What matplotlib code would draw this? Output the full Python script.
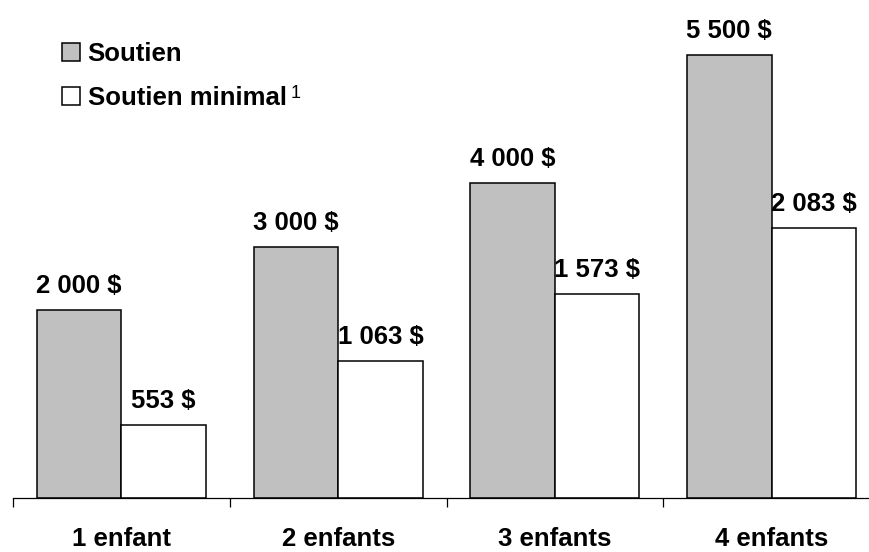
import matplotlib
matplotlib.use('Agg')
import matplotlib.pyplot as plt
import numpy as np

# data
categories = ['1 enfant', '2 enfants', '3 enfants', '4 enfants']
soutien_labels = ['2 000 $', '3 000 $', '4 000 $', '5 500 $']
minimal_labels = ['553 $', '1 063 $', '1 573 $', '2 083 $']
# bar heights as drawn in the picture (the source chart is not to scale)
soutien_heights = [1880, 2510, 3150, 4430]
minimal_heights = [730, 1370, 2040, 2700]
series_names = ['Soutien', 'Soutien minimal']

plt.rcParams['font.family'] = ['Liberation Sans', 'DejaVu Sans']
FS = 18.5

fig = plt.figure(figsize=(8.7, 5.52), dpi=100)
ax = fig.add_axes([13/870, 54/552, 867/870, 498/552])

x = np.arange(len(categories))
w = 0.39
b1 = ax.bar(x - w/2, soutien_heights, w, color='#c0c0c0', edgecolor='black', linewidth=1.1, label=series_names[0])
b2 = ax.bar(x + w/2, minimal_heights, w, color='white', edgecolor='black', linewidth=1.1, label=series_names[1])

for bars, labels in ((b1, soutien_labels), (b2, minimal_labels)):
    for r, lab in zip(bars, labels):
        ax.annotate(lab, (r.get_x() + r.get_width()/2, r.get_height()),
                    xytext=(0, 12), textcoords='offset points',
                    ha='center', va='baseline', fontsize=FS, fontweight='bold')

ax.set_xlim(-0.5, len(categories) - 0.5)
ax.set_ylim(0, 4980)
for s in ('top', 'right', 'left'):
    ax.spines[s].set_visible(False)
ax.spines['bottom'].set_linewidth(0.9)
ax.set_yticks([])
ax.set_xticks(x)
ax.set_xticklabels(categories, fontsize=FS, fontweight='bold')
ax.set_xticks(np.arange(len(categories)) - 0.5, minor=True)
ax.tick_params(axis='x', which='major', length=0, pad=21)
ax.tick_params(axis='x', which='minor', length=6.5, width=0.9, direction='out')

leg = ax.legend(handles=[b1, b2], labels=series_names, loc='upper left',
                bbox_to_anchor=(62/870, 1 - 42/552), bbox_transform=fig.transFigure,
                frameon=False, prop={'weight': 'bold', 'size': FS},
                handlelength=0.7, handleheight=0.7, handletextpad=0.3,
                labelspacing=0.78, borderpad=0, borderaxespad=0)

fig.canvas.draw()
bb = leg.get_texts()[1].get_window_extent()
fig.text((bb.x1 + 4) / 870, (bb.y1 + 1) / 552, '1', fontsize=13, va='top', ha='left')

fig.savefig('out.png', dpi=100)
